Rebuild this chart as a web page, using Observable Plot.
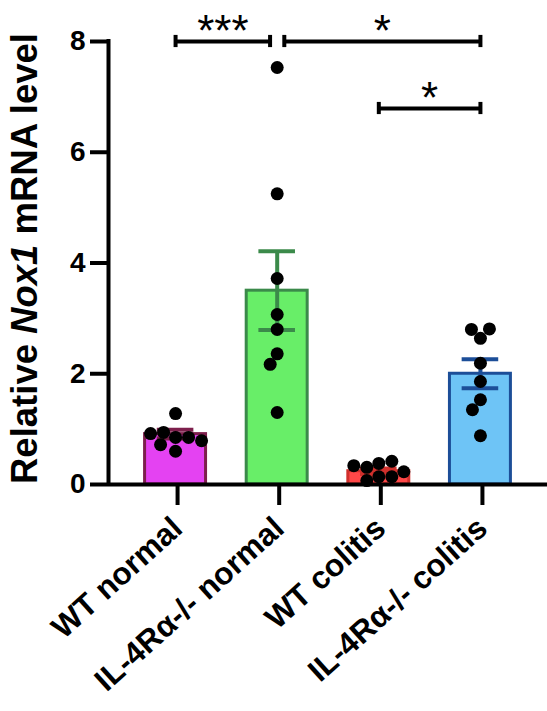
<!DOCTYPE html>
<html>
<head>
<meta charset="utf-8">
<script src="https://cdn.jsdelivr.net/npm/d3@7"></script>
<script src="https://cdn.jsdelivr.net/npm/@observablehq/plot@0.6"></script>
<style>
  html, body { margin: 0; padding: 0; background: white; }
  #chart svg { display: block; }
</style>
</head>
<body>
<div id="chart"></div>
<script>
// ---- data ----
const groups = ["WT normal", "IL-4Rα-/- normal", "WT colitis", "IL-4Rα-/- colitis"];
const barMeans = [0.91, 3.50, 0.24, 2.00];
const barSEM = [0.08, 0.71, 0.05, 0.26];
const wtNormal = [1.28, 0.85, 0.94, 0.85, 0.72, 0.79, 0.92, 0.60];
const il4Normal = [7.53, 5.25, 3.72, 3.07, 2.80, 2.36, 2.17, 1.30];
const wtColitis = [0.38, 0.31, 0.42, 0.34, 0.14, 0.14, 0.07, 0.23];
const il4Colitis = [2.64, 2.80, 2.81, 2.19, 1.86, 1.53, 1.35, 0.88];
const compFrom = [0, 1, 2];
const compTo = [1, 3, 3];
const compLevel = [8, 8, 6.79];
const compLabel = ["***", "*", "*"];
const yTicks = [0, 2, 4, 6, 8];

// ---- styles ----
const barFills = ["#e442f2", "#68ee68", "#ff4848", "#6ec4f6"];
const barStrokes = ["#7d1f4c", "#3b8a4a", "#d0302c", "#1c4e98"];

// ---- layout ----
const W = 547, H = 711, mL = 108, mR = 0, mT = 41, mB = 227;
const xDomain = [-0.66, 3.66];
const yDomain = [0, 8];
const pxPerX = (W - mL - mR) / (xDomain[1] - xDomain[0]);
const pxPerY = (H - mT - mB) / (yDomain[1] - yDomain[0]);
const halfBar = 0.30, halfCap = 0.18, gap = 0.07, dotR = 6.5, minDist = 12.5;

const bars = groups.map((g, i) => ({
  i, g, mean: barMeans[i], lo: barMeans[i] - barSEM[i], hi: barMeans[i] + barSEM[i],
  fill: barFills[i], stroke: barStrokes[i]
}));

// beeswarm-style layout of the dots around each bar centre
const pointSets = [wtNormal, il4Normal, wtColitis, il4Colitis];
const points = [];
pointSets.forEach((vals, i) => {
  const placed = [];
  vals.forEach(v => {
    const py = v * pxPerY;
    let off = 0;
    for (let k = 0; k < 200; k++) {
      const cands = k === 0 ? [0] : [-k, k];
      let ok = null;
      for (const c of cands) {
        if (placed.every(p => (p.ox - c) ** 2 + (p.py - py) ** 2 >= minDist * minDist)) { ok = c; break; }
      }
      if (ok !== null) { off = ok; break; }
    }
    placed.push({ox: off, py});
    points.push({x: i + off / pxPerX, y: v});
  });
});

// significance brackets
const brackets = compFrom.map((f, k) => {
  let x1 = f, x2 = compTo[k];
  compFrom.forEach((f2, j) => {
    if (j === k || compLevel[j] !== compLevel[k]) return;
    if (compTo[j] === f) x1 = f + gap;
    if (f2 === compTo[k]) x2 = compTo[k] - gap;
  });
  return {x1, x2, y: compLevel[k], label: compLabel[k], mid: (x1 + x2) / 2};
});
const bracketEnds = brackets.flatMap(b => [{x: b.x1, y: b.y}, {x: b.x2, y: b.y}]);

const plot = Plot.plot({
  width: W, height: H,
  marginLeft: mL, marginRight: mR, marginTop: mT, marginBottom: mB,
  x: {domain: xDomain, axis: null},
  y: {domain: yDomain, axis: null},
  color: {type: "identity"},
  style: {fontFamily: "'Liberation Sans', Arial, sans-serif", color: "black", background: "white", overflow: "visible"},
  marks: [
    Plot.rectY(bars, {x1: d => d.i - halfBar, x2: d => d.i + halfBar, y1: 0, y2: "mean",
      fill: "fill", stroke: "stroke", strokeWidth: 3}),
    Plot.ruleX(bars, {x: "i", y1: "lo", y2: "hi", stroke: "stroke", strokeWidth: 4}),
    Plot.ruleY(bars, {y: "hi", x1: d => d.i - halfCap, x2: d => d.i + halfCap, stroke: "stroke", strokeWidth: 4}),
    Plot.ruleY(bars, {y: "lo", x1: d => d.i - halfCap, x2: d => d.i + halfCap, stroke: "stroke", strokeWidth: 4}),
    Plot.dot(points, {x: "x", y: "y", r: dotR, fill: "black", stroke: "none"}),
    // axes
    Plot.ruleX([xDomain[0]], {y1: yDomain[0], y2: yDomain[1], stroke: "black", strokeWidth: 4, strokeLinecap: "square"}),
    Plot.ruleY([0], {stroke: "black", strokeWidth: 4}),
    Plot.axisY({ticks: yTicks, tickSize: 18, tickPadding: 5, strokeWidth: 4, fontSize: 28, fontWeight: "bold", label: null}),
    Plot.axisX({ticks: groups.map((_, i) => i), tickFormat: i => groups[i], tickSize: 21, strokeWidth: 4,
      tickRotate: -42, tickPadding: 18, dx: 2, fontSize: 31.5, fontWeight: "bold", label: null}),
    // brackets
    Plot.ruleY(brackets, {y: "y", x1: "x1", x2: "x2", stroke: "black", strokeWidth: 4}),
    Plot.ruleX(bracketEnds, {x: "x", y1: d => d.y - 0.11, y2: d => d.y + 0.11, stroke: "black", strokeWidth: 4}),
    Plot.text(brackets, {x: "mid", y: "y", text: "label", fontSize: 44, lineAnchor: "bottom", dy: 4, fill: "black"})
  ]
});

document.getElementById("chart").appendChild(plot);

// y-axis title with italic gene name
const svg = d3.select(plot);
const yMid = mT + (H - mT - mB) / 2;
const t = svg.append("text")
  .attr("transform", `translate(37,${yMid - 4}) rotate(-90)`)
  .attr("text-anchor", "middle")
  .attr("font-size", 36.5)
  .attr("font-weight", "bold")
  .attr("fill", "black");
t.append("tspan").text("Relative ");
t.append("tspan").attr("font-style", "italic").text("Nox1");
t.append("tspan").text(" mRNA level");
</script>
</body>
</html>
